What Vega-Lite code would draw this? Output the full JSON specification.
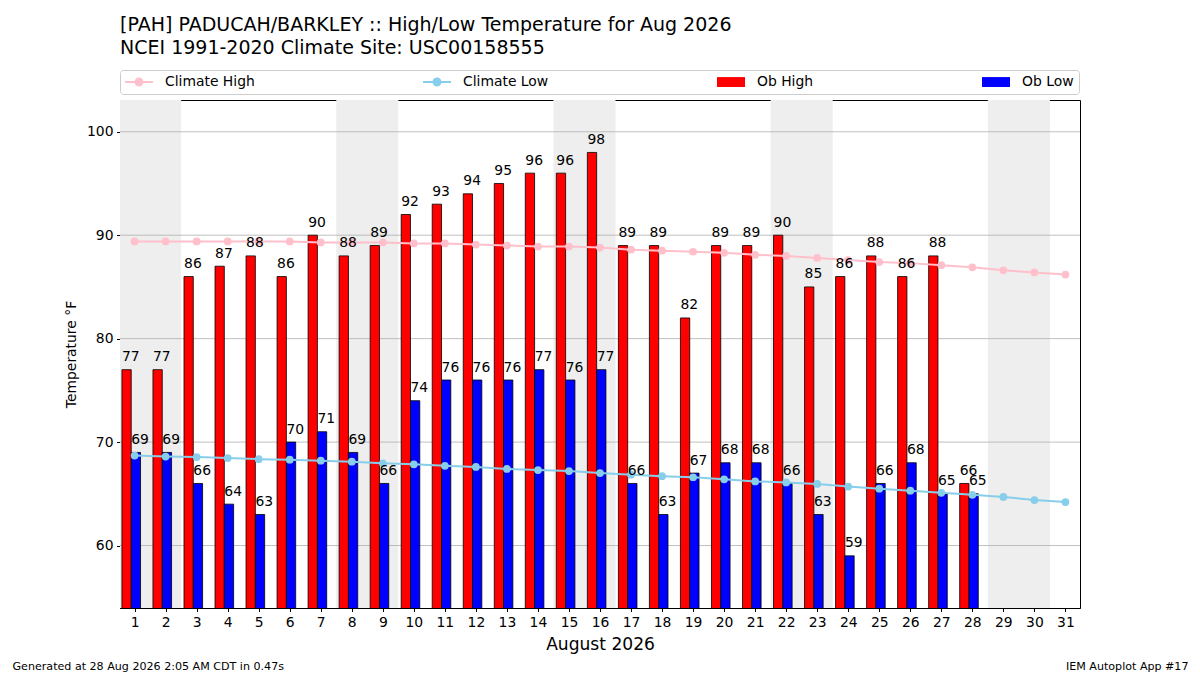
{
  "$schema": "https://vega.github.io/schema/vega-lite/v6.json",
  "width": 960,
  "height": 508,
  "autosize": {"type": "none"},
  "padding": {"left": 120, "top": 100, "right": 120, "bottom": 67},
  "background": "white",
  "title": {
    "text": ["[PAH] PADUCAH/BARKLEY :: High/Low Temperature for Aug 2026", "NCEI 1991-2020 Climate Site: USC00158555"],
    "anchor": "start",
    "frame": "group",
    "font": "DejaVu Sans",
    "fontSize": 19,
    "fontWeight": "normal",
    "color": "black",
    "lineHeight": 23,
    "offset": 12
  },
  "config": {
    "font": "DejaVu Sans",
    "view": {"stroke": "black", "strokeWidth": 1},
    "axis": {
      "labelFont": "DejaVu Sans",
      "titleFont": "DejaVu Sans",
      "labelColor": "black",
      "titleColor": "black",
      "domainColor": "black",
      "tickColor": "black",
      "labelFontSize": 13.9,
      "titleFontWeight": "normal",
      "tickSize": 3.5,
      "labelPadding": 3.5,
      "grid": false
    },
    "legend": {
      "orient": "none",
      "legendX": 0,
      "legendY": -30,
      "direction": "horizontal",
      "columns": 4,
      "columnPadding": 168,
      "padding": 5,
      "strokeColor": "#cccccc",
      "fillColor": "white",
      "cornerRadius": 3,
      "labelFont": "DejaVu Sans",
      "labelFontSize": 13.9,
      "labelColor": "black",
      "labelOffset": 26,
      "symbolSize": 196,
      "symbolOpacity": 1,
      "symbolStrokeWidth": 0
    }
  },
  "datasets": {
    "days": [
      {"day": 1, "high": 77, "low": 69, "chigh": 89.4, "clow": 68.7},
      {"day": 2, "high": 77, "low": 69, "chigh": 89.4, "clow": 68.6},
      {"day": 3, "high": 86, "low": 66, "chigh": 89.4, "clow": 68.55},
      {"day": 4, "high": 87, "low": 64, "chigh": 89.4, "clow": 68.45},
      {"day": 5, "high": 88, "low": 63, "chigh": 89.4, "clow": 68.35},
      {"day": 6, "high": 86, "low": 70, "chigh": 89.4, "clow": 68.3},
      {"day": 7, "high": 90, "low": 71, "chigh": 89.3, "clow": 68.2},
      {"day": 8, "high": 88, "low": 69, "chigh": 89.3, "clow": 68.1},
      {"day": 9, "high": 89, "low": 66, "chigh": 89.3, "clow": 67.95},
      {"day": 10, "high": 92, "low": 74, "chigh": 89.2, "clow": 67.85},
      {"day": 11, "high": 93, "low": 76, "chigh": 89.2, "clow": 67.7},
      {"day": 12, "high": 94, "low": 76, "chigh": 89.1, "clow": 67.6},
      {"day": 13, "high": 95, "low": 76, "chigh": 89.0, "clow": 67.4},
      {"day": 14, "high": 96, "low": 77, "chigh": 88.9, "clow": 67.3},
      {"day": 15, "high": 96, "low": 76, "chigh": 88.9, "clow": 67.2},
      {"day": 16, "high": 98, "low": 77, "chigh": 88.8, "clow": 67.0},
      {"day": 17, "high": 89, "low": 66, "chigh": 88.6, "clow": 66.85},
      {"day": 18, "high": 89, "low": 63, "chigh": 88.5, "clow": 66.7},
      {"day": 19, "high": 82, "low": 67, "chigh": 88.4, "clow": 66.6},
      {"day": 20, "high": 89, "low": 68, "chigh": 88.3, "clow": 66.4},
      {"day": 21, "high": 89, "low": 68, "chigh": 88.1, "clow": 66.2},
      {"day": 22, "high": 90, "low": 66, "chigh": 88.0, "clow": 66.1},
      {"day": 23, "high": 85, "low": 63, "chigh": 87.8, "clow": 65.95},
      {"day": 24, "high": 86, "low": 59, "chigh": 87.6, "clow": 65.7},
      {"day": 25, "high": 88, "low": 66, "chigh": 87.4, "clow": 65.5},
      {"day": 26, "high": 86, "low": 68, "chigh": 87.3, "clow": 65.3},
      {"day": 27, "high": 88, "low": 65, "chigh": 87.1, "clow": 65.1},
      {"day": 28, "high": 66, "low": 65, "chigh": 86.9, "clow": 64.9},
      {"day": 29, "high": null, "low": null, "chigh": 86.6, "clow": 64.7},
      {"day": 30, "high": null, "low": null, "chigh": 86.4, "clow": 64.4},
      {"day": 31, "high": null, "low": null, "chigh": 86.2, "clow": 64.2}
    ],
    "weekends": [
      {"start": 0.5, "end": 2.5},
      {"start": 7.5, "end": 9.5},
      {"start": 14.5, "end": 16.5},
      {"start": 21.5, "end": 23.5},
      {"start": 28.5, "end": 30.5}
    ],
    "grid": [{"t": 60}, {"t": 70}, {"t": 80}, {"t": 90}, {"t": 100}],
    "series": [{"key": "Climate High"}]
  },
  "layer": [
    {
      "encoding": {
        "x": {
          "type": "quantitative",
          "scale": {"domain": [0.53, 31.47], "nice": false, "zero": false, "padding": 0},
          "axis": {
            "values": [1, 2, 3, 4, 5, 6, 7, 8, 9, 10, 11, 12, 13, 14, 15, 16, 17, 18, 19, 20, 21, 22, 23, 24, 25, 26, 27, 28, 29, 30, 31],
            "title": "August 2026",
            "titleFontSize": 17.1,
            "titlePadding": 7,
            "labelFlush": false,
            "labelOverlap": false
          }
        },
        "y": {
          "type": "quantitative",
          "scale": {"domain": [53.96, 103.07], "nice": false, "zero": false, "padding": 0},
          "axis": {
            "values": [60, 70, 80, 90, 100],
            "title": "Temperature °F",
            "titleFontSize": 13.9,
            "titlePadding": 8
          }
        }
      },
      "layer": [
        {
          "data": {"name": "weekends"},
          "mark": {"type": "rect", "color": "#eeeeee", "clip": true},
          "encoding": {
            "x": {"field": "start"},
            "x2": {"field": "end"}
          }
        },
        {
          "data": {"name": "grid"},
          "mark": {"type": "rule", "color": "#b0b0b0", "strokeWidth": 0.8},
          "encoding": {
            "y": {"field": "t"}
          }
        },
        {
          "data": {"name": "days"},
          "mark": {"type": "bar", "size": 9.3, "xOffset": -8, "fill": "#ff0000", "stroke": "black", "strokeWidth": 0.8, "clip": true},
          "encoding": {
            "x": {"field": "day"},
            "y": {"field": "high"}
          }
        },
        {
          "data": {"name": "days"},
          "mark": {"type": "bar", "size": 9.3, "xOffset": 1.3, "fill": "#0000ff", "stroke": "black", "strokeWidth": 0.8, "clip": true},
          "encoding": {
            "x": {"field": "day"},
            "y": {"field": "low"}
          }
        },
        {
          "data": {"name": "days"},
          "mark": {"type": "line", "color": "#ffc0cb", "strokeWidth": 2, "point": {"filled": true, "size": 60, "opacity": 1, "color": "#ffc0cb"}},
          "encoding": {
            "x": {"field": "day"},
            "y": {"field": "chigh"}
          }
        },
        {
          "data": {"name": "days"},
          "mark": {"type": "line", "color": "#87ceeb", "strokeWidth": 2, "point": {"filled": true, "size": 60, "opacity": 1, "color": "#87ceeb"}},
          "encoding": {
            "x": {"field": "day"},
            "y": {"field": "clow"}
          }
        },
        {
          "data": {"name": "days"},
          "mark": {"type": "text", "align": "left", "baseline": "alphabetic", "xOffset": -12.6, "dy": -8.5, "fontSize": 13.9, "color": "black"},
          "encoding": {
            "x": {"field": "day"},
            "y": {"field": "high"},
            "text": {"field": "high", "type": "quantitative"}
          }
        },
        {
          "data": {"name": "days"},
          "mark": {"type": "text", "align": "left", "baseline": "alphabetic", "xOffset": -3.3, "dy": -8.5, "fontSize": 13.9, "color": "black"},
          "encoding": {
            "x": {"field": "day"},
            "y": {"field": "low"},
            "text": {"field": "low", "type": "quantitative"}
          }
        },
        {
          "data": {"name": "series"},
          "mark": {"type": "point", "filled": true, "opacity": 0},
          "encoding": {
            "x": {"datum": 1},
            "y": {"datum": 60},
            "color": {
              "field": "key",
              "type": "nominal",
              "title": null,
              "scale": {
                "domain": ["Climate High", "Climate Low", "Ob High", "Ob Low"],
                "range": ["#ffc0cb", "#87ceeb", "#ff0000", "#0000ff"]
              }
            },
            "shape": {
              "field": "key",
              "type": "nominal",
              "title": null,
              "scale": {
                "domain": ["Climate High", "Climate Low", "Ob High", "Ob Low"],
                "range": [
                  "M-1,-0.14H3V0.14H-1Z M1.64,0A0.64,0.64 0 1,1 0.36,0A0.64,0.64 0 1,1 1.64,0Z",
                  "M-1,-0.14H3V0.14H-1Z M1.64,0A0.64,0.64 0 1,1 0.36,0A0.64,0.64 0 1,1 1.64,0Z",
                  "M-1,-0.71H3V0.71H-1Z",
                  "M-1,-0.71H3V0.71H-1Z"
                ]
              }
            }
          }
        }
      ]
    },
    {
      "data": {"values": [{"v": 0}]},
      "mark": {"type": "point", "opacity": 0},
      "encoding": {
        "x": {
          "field": "v",
          "type": "quantitative",
          "scale": {"domain": [0, 1]},
          "axis": {
            "orient": "top",
            "domain": false,
            "ticks": false,
            "labels": false,
            "title": "Generated at 28 Aug 2026 2:05 AM CDT in 0.47s",
            "titleFontSize": 11.1,
            "titleAlign": "left",
            "titleAnchor": "start",
            "titleBaseline": "alphabetic",
            "titleX": -108,
            "titleY": 569
          }
        },
        "y": {
          "field": "v",
          "type": "quantitative",
          "scale": {"domain": [0, 1]},
          "axis": {
            "orient": "right",
            "domain": false,
            "ticks": false,
            "labels": false,
            "title": "IEM Autoplot App #17",
            "titleFontSize": 11.1,
            "titleAngle": 0,
            "titleAlign": "right",
            "titleBaseline": "alphabetic",
            "titleX": 108,
            "titleY": 569
          }
        }
      }
    }
  ],
  "resolve": {"scale": {"x": "independent", "y": "independent"}}
}
